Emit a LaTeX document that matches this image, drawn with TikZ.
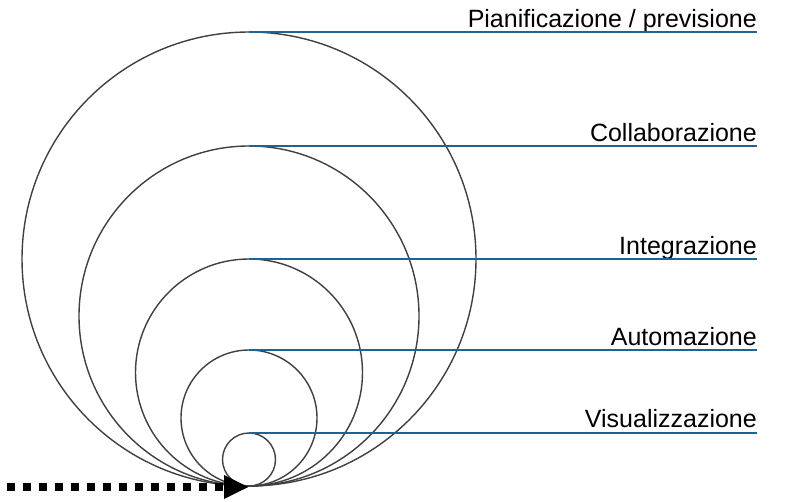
\documentclass[tikz,border=0pt]{standalone}
\usepackage{fontspec}
\setmainfont{Liberation Sans}
\usetikzlibrary{arrows.meta,positioning}
\definecolor{ringgray}{HTML}{404040}
\definecolor{leadblue}{HTML}{1F6391}

\begin{document}
\begin{tikzpicture}[x=1pt, y=-1pt,
    ring/.style={circle, draw=ringgray, line width=1.4pt, inner sep=0pt, outer sep=0pt},
    lbl/.style={font=\fontsize{25}{28}\selectfont, inner sep=0pt, text=black},
    lead/.style={draw=leadblue, line width=1.5pt}]
      \useasboundingbox (0,0) rectangle (787,501);

      \node[ring, minimum size=454pt] (c1) at (249,259) {};
      \node[ring, minimum size=340pt] (c2) at (249,316) {};
      \node[ring, minimum size=227pt] (c3) at (249,372.5) {};
      \node[ring, minimum size=136pt] (c4) at (249,418) {};
      \node[ring, minimum size=53pt] (c5) at (249,459.5) {};

      \node[lbl, anchor=base east] (l1) at (757,27) {Pianificazione / previsione};
      \node[lbl, anchor=base east] (l2) at (757,141) {Collaborazione};
      \node[lbl, anchor=base east] (l3) at (757,254) {Integrazione};
      \node[lbl, anchor=base east] (l4) at (757,345) {Automazione};
      \node[lbl, anchor=base east] (l5) at (757,427) {Visualizzazione};

      \draw[lead] (c1.north) -- (c1.north -| l1.east);
      \draw[lead] (c2.north) -- (c2.north -| l2.east);
      \draw[lead] (c3.north) -- (c3.north -| l3.east);
      \draw[lead] (c4.north) -- (c4.north -| l4.east);
      \draw[lead] (c5.north) -- (c5.north -| l5.east);

      \coordinate (s) at (7,487);
      \draw[line width=8pt, dash pattern=on 7.5pt off 8.5pt,
            -{Triangle[length=25pt, width=22pt]}] (s) -- (s -| c5.south);
    \end{tikzpicture}
\end{document}
